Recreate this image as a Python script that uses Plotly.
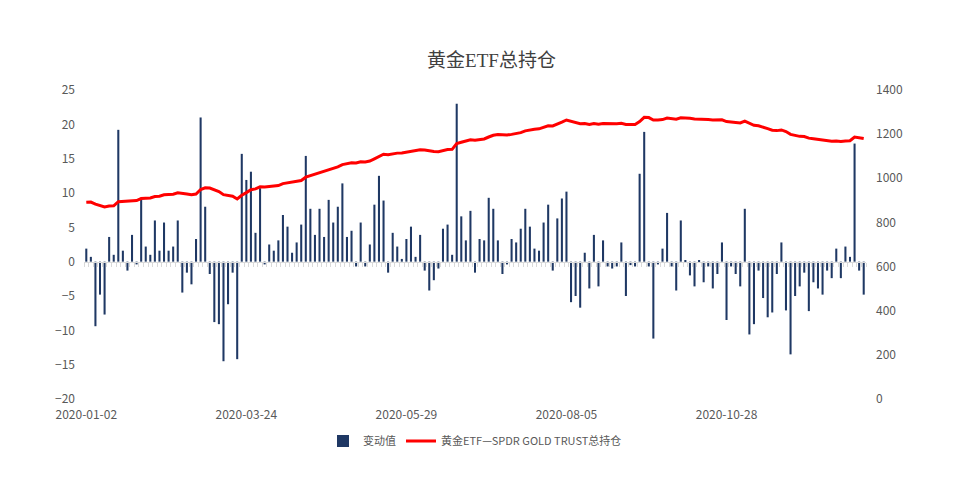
import plotly.graph_objects as go

tick_labels = ["2020-01-02", "2020-03-24", "2020-05-29", "2020-08-05", "2020-10-28"]

change = [
    1.9, 0.7, -9.4, -4.8, -7.7, 3.6, 1.0, 19.2, 1.6, -1.3,
    3.9, -0.4, 9.1, 2.2, 1.0, 6.0, 1.6, 5.7, 1.6, 2.2,
    6.0, -4.5, -1.6, -3.3, 3.3, 21.0, 8.0, -1.8, -8.8, -9.1,
    -14.5, -6.2, -1.6, -14.2, 15.7, 11.9, 13.1, 4.2, 10.7, -0.4,
    2.5, 1.6, 3.1, 6.8, 5.1, 1.3, 2.8, 5.4, 15.4, 7.7,
    3.9, 7.7, 3.6, 9.0, 5.7, 8.0, 11.4, 3.6, 4.5, -0.7,
    5.7, -0.7, 2.5, 8.3, 12.5, 8.9, -1.6, 4.2, 2.2, 0.4,
    3.3, 5.1, 0.7, 3.9, -1.3, -4.2, -2.7, -1.0, 4.8, 5.4,
    1.0, 23.0, 6.6, 3.1, 7.4, -1.6, 3.3, 3.1, 9.3, 7.7,
    3.1, -1.8, -0.4, 3.3, 2.8, 4.8, 7.7, 5.1, 1.9, 1.6,
    5.7, 8.3, -1.3, 6.3, 9.2, 10.2, -5.9, -5.0, -6.7, 1.3,
    -3.9, 3.9, -3.6, 3.1, -0.7, -1.0, -0.7, 2.8, -5.0, -0.5,
    -0.7, 12.8, 18.9, -0.7, -11.2, -0.4, 1.9, 7.1, -0.7, -4.2,
    6.0, 0.15, -2.0, -3.6, 0.15, -3.0, -0.7, -3.9, -1.8, 2.8,
    -8.5, -0.7, -1.8, -3.6, 7.7, -10.6, -9.1, -1.3, -5.3, -8.1,
    -7.4, -1.8, 2.8, -7.1, -13.5, -5.0, -3.6, -1.6, -7.2, -3.0,
    -3.9, -4.8, -1.3, -2.4, 1.9, -2.4, 2.2, 0.7, 17.2, -1.3,
    -4.8,
]

holdings = [
    891, 892, 883, 878, 870, 874, 875, 894, 896, 895,
    899, 899, 908, 910, 911, 917, 919, 925, 926, 928,
    934, 930, 929, 926, 929, 949, 957, 956, 948, 940,
    926, 921, 919, 906, 923, 935, 948, 952, 961, 960,
    962, 964, 967, 976, 980, 982, 985, 990, 1005, 1012,
    1017, 1025, 1030, 1038, 1044, 1052, 1062, 1066, 1070, 1069,
    1075, 1074, 1078, 1088, 1100, 1109, 1107, 1112, 1114, 1115,
    1119, 1124, 1125, 1129, 1128, 1124, 1121, 1120, 1125, 1130,
    1131, 1157, 1163, 1167, 1174, 1172, 1175, 1178, 1187, 1195,
    1198, 1196, 1196, 1199, 1202, 1207, 1215, 1220, 1222, 1224,
    1230, 1238, 1237, 1244, 1254, 1264, 1258, 1253, 1247, 1248,
    1244, 1248, 1245, 1248, 1247, 1247, 1247, 1249, 1244, 1244,
    1244, 1257, 1276, 1275, 1264, 1264, 1266, 1273, 1272, 1268,
    1274, 1274, 1272, 1269, 1269, 1266, 1266, 1264, 1263, 1265,
    1257, 1256, 1254, 1251, 1259, 1249, 1240, 1238, 1233, 1225,
    1218, 1216, 1219, 1212, 1199, 1194, 1190, 1189, 1182, 1179,
    1176, 1171, 1170, 1168, 1169, 1167, 1169, 1170, 1187, 1185,
    1180,
]

n = len(change)
idx = list(range(n))
label_step = 35

font_main = "Noto Sans CJK SC, Liberation Sans, sans-serif"
grey = "#595959"

fig = go.Figure()
fig.add_trace(go.Bar(
    x=idx, y=change, name="变动值",
    marker=dict(color="#1f3864", line=dict(width=0)),
    yaxis="y", xaxis="x",
))
fig.add_trace(go.Scatter(
    x=idx, y=holdings, name="黄金ETF—SPDR GOLD TRUST总持仓",
    mode="lines", line=dict(color="#ff0000", width=3),
    yaxis="y2", xaxis="x",
))
# invisible helper trace for the category axis drawn at y = 0
fig.add_trace(go.Scatter(
    x=[idx[0], idx[-1]], y=[0, 0], mode="lines",
    line=dict(width=0), showlegend=False, hoverinfo="skip",
    xaxis="x2", yaxis="y",
))

xr = [-0.5, n - 0.5]
ymin, ymax = -20, 25

W, H = 967, 480

fig.update_layout(
    width=W, height=H,
    margin=dict(l=76, r=109, t=82, b=89),
    paper_bgcolor="white", plot_bgcolor="white",
    font=dict(family=font_main, size=12, color=grey),
    title=dict(
        text="黄金ETF总持仓", x=0.5, xanchor="center",
        y=1 - 52 / H, yanchor="middle",
        font=dict(family="Liberation Serif, Noto Sans CJK SC, serif", size=19, color="#404040"),
    ),
    bargap=0.55,
    showlegend=True,
    legend=dict(
        orientation="h", x=0.5, xanchor="center", y=-0.136, yanchor="middle",
        font=dict(size=11, color=grey), bgcolor="rgba(0,0,0,0)",
        itemwidth=30,
    ),
    xaxis=dict(
        range=xr, showgrid=False, zeroline=False, showline=False,
        tickmode="array",
        tickvals=idx[::label_step],
        ticktext=tick_labels,
        ticks="", tickfont=dict(size=12, color=grey),
        ticklabelstandoff=7,
    ),
    xaxis2=dict(
        range=xr, overlaying="x", anchor="free",
        position=(0 - ymin) / (ymax - ymin),
        showgrid=False, zeroline=False,
        showline=True, linecolor="#d9d9d9", linewidth=1,
        showticklabels=False, ticks="outside", ticklen=4,
        tickcolor="#d9d9d9", tickwidth=1,
        tickmode="linear", tick0=0.5, dtick=1,
    ),
    yaxis=dict(
        range=[ymin, ymax], tickmode="linear", tick0=ymin, dtick=5,
        showgrid=False, zeroline=False, showline=False,
        tickfont=dict(size=12, color=grey), ticks="",
        ticklabelstandoff=8,
    ),
    yaxis2=dict(
        range=[0, 1400], tickmode="linear", tick0=0, dtick=200,
        overlaying="y", side="right",
        showgrid=False, zeroline=False, showline=False,
        tickfont=dict(size=12, color=grey), ticks="",
        ticklabelstandoff=9,
    ),
)

fig.write_html("out.html")
